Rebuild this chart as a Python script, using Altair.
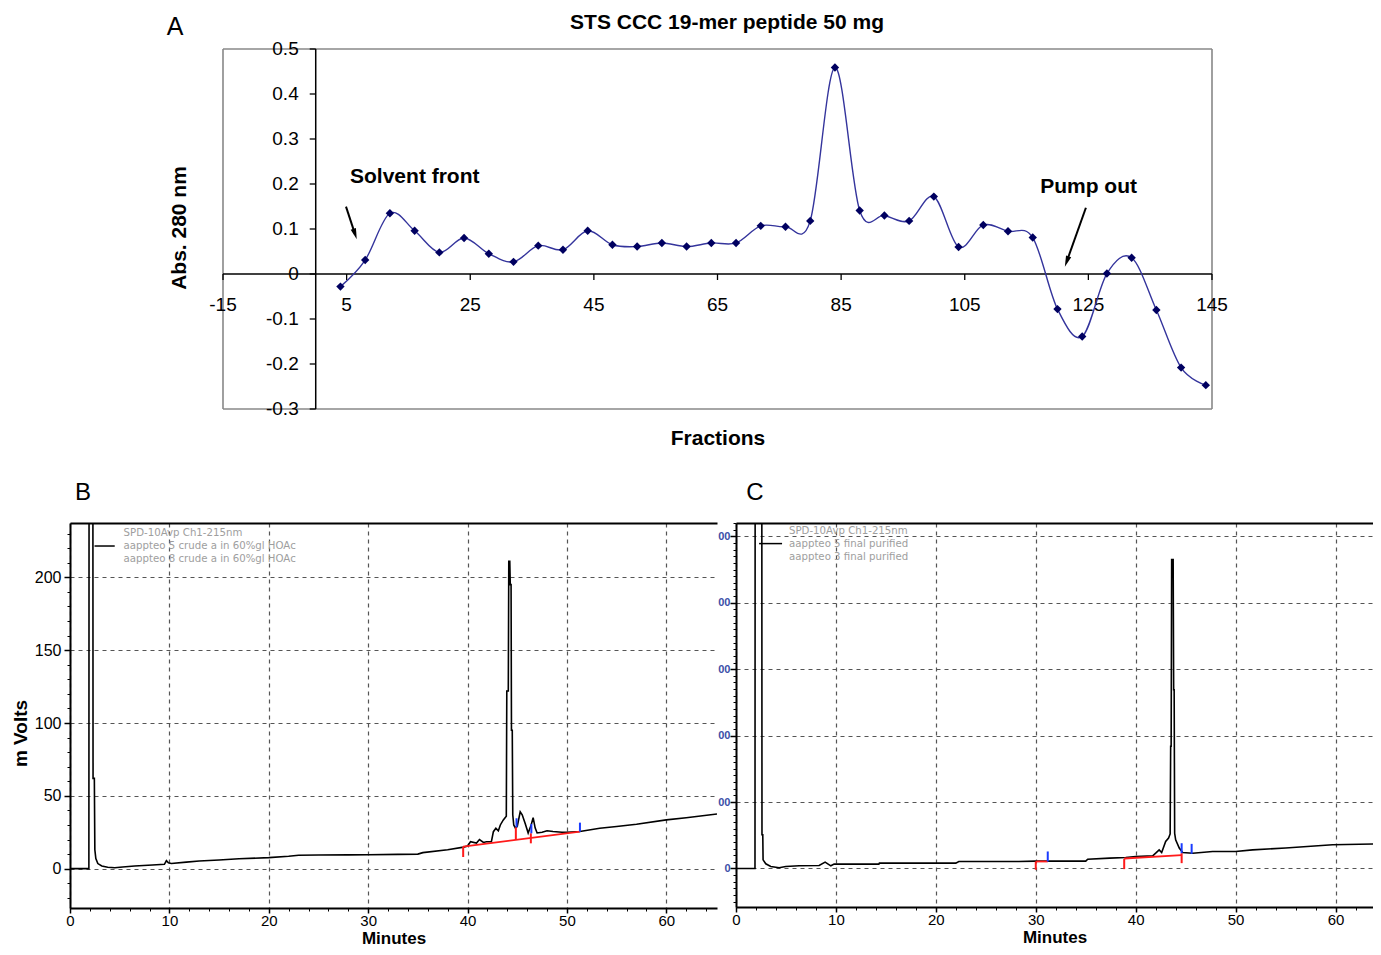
import altair as alt
import pandas as pd

FONT = "Liberation Sans"

# ---------------- Panel A data ----------------
A_FRACTION = [4, 8, 12, 16, 20, 24, 28, 32, 36, 40, 44, 48, 52, 56, 60, 64, 68, 72,
              76, 80, 84, 88, 92, 96, 100, 104, 108, 112, 116, 120, 124, 128, 132,
              136, 140, 144]
A_ABS = [-0.028, 0.031, 0.135, 0.096, 0.048, 0.080, 0.045, 0.027, 0.063, 0.054,
         0.096, 0.065, 0.061, 0.069, 0.061, 0.069, 0.069, 0.107, 0.105, 0.118,
         0.459, 0.141, 0.130, 0.118, 0.172, 0.060, 0.109, 0.095, 0.081, -0.078,
         -0.139, 0.001, 0.036, -0.080, -0.208, -0.247]
A_XTICKS = [-15, 5, 25, 45, 65, 85, 105, 125, 145]
A_XLABELS = ["-15", "5", "25", "45", "65", "85", "105", "125", "145"]
A_YTICKS = [-0.3, -0.2, -0.1, 0, 0.1, 0.2, 0.3, 0.4, 0.5]
A_YLABELS = ["-0.3", "-0.2", "-0.1", "0", "0.1", "0.2", "0.3", "0.4", "0.5"]
A_TITLE = "STS CCC 19-mer peptide 50 mg"
A_XTITLE = "Fractions"
A_YTITLE = "Abs. 280 nm"

A_NOTES = ["Solvent front", "Pump out"]
A_NOTE_X = [5.55, 117.2]
A_NOTE_Y = [0.2156, 0.1933]
A_ARROW_X = [4.90, 124.6]
A_ARROW_Y = [0.1496, 0.1473]
A_ARROW_X2 = [6.36, 121.5]
A_ARROW_Y2 = [0.0887, 0.0278]
A_ARROW_ANGLE = [162, 200]

# crossing axis lines of panel A (x from, y from, x to, y to)
A_AXIS_X = [-15, 0]
A_AXIS_Y = [0, -0.3]
A_AXIS_X2 = [145, 0]
A_AXIS_Y2 = [0, 0.5]
# frame of panel A plot area (bottom, top, right, left)
A_BOX_X = [-15, -15, 145, -15]
A_BOX_Y = [-0.3, 0.5, -0.3, -0.3]
A_BOX_X2 = [145, 145, 145, -15]
A_BOX_Y2 = [-0.3, 0.5, 0.5, 0.5]

# ---------------- Panel B data ----------------
B_TIME = [0, 1.9, 1.92, 2.3, 2.32, 2.45, 2.5, 2.6, 2.8, 3.2, 3.8, 4.5, 5.3, 6.5, 8.3,
          9.5, 9.7, 9.9, 10.2, 11.7, 13, 15, 17, 20, 22, 23, 25, 28, 30, 33, 35, 35.5,
          38, 39.6, 40.0, 40.3, 40.9, 41.2, 41.6, 41.9, 42.4, 42.6, 42.85, 43.1, 43.3,
          43.6, 43.9, 43.95, 44.1, 44.15, 44.25, 44.3, 44.38, 44.42, 44.5, 44.55,
          44.65, 44.8, 45.0, 45.3, 45.5, 45.8, 46.1, 46.4, 46.6, 46.8, 47.0, 47.5,
          48.0, 48.6, 49.5, 50.0, 51.3, 53.3, 55, 57, 60, 62, 65.1]
B_MV = [0, 0, 300, 300, 62, 62, 13, 7, 3.5, 1.8, 1.0, 0.6, 1.2, 1.8, 2.5, 3.0, 5.5,
        4.0, 3.6, 4.5, 5.3, 6.0, 6.8, 7.6, 8.5, 9.2, 9.4, 9.5, 9.6, 9.8, 10.0, 11.0,
        13.0, 14.8, 15.6, 18.5, 17.6, 20.0, 18.0, 18.5, 18.5, 25.4, 27.7, 26.0, 30.0,
        33.5, 36.0, 122, 122, 211, 211, 195, 195, 95, 95, 37, 30, 28, 29, 39, 37, 31,
        24.5, 30, 35, 28, 24.5, 25, 26, 25.5, 25, 25, 25.5, 27.7, 29, 30.5, 33.5, 35,
        37.5]
B_XMAJOR = [0, 10, 20, 30, 40, 50, 60]
B_XMINOR = list(range(0, 66, 2))
B_YMAJOR = [0, 50, 100, 150, 200]
B_YMINOR = list(range(-20, 240, 10))
B_BASE_T = [39.56]
B_BASE_V = [15.1]
B_BASE_T2 = [51.31]
B_BASE_V2 = [25.4]
B_MARK_T = [39.56, 44.86, 46.37, 44.93, 46.42, 51.31]
B_MARK_V = [15.1, 28.4, 24.3, 34.6, 30.7, 31.6]
B_MARK_V2 = [8.0, 19.7, 17.4, 28.4, 24.3, 25.4]
B_MARK_KIND = ["red", "red", "red", "blue", "blue", "blue"]
B_LEGEND = ["SPD-10Avp Ch1-215nm", "aappteo 5 crude a in 60%gl HOAc",
            "aappteo 8 crude a in 60%gl HOAc"]
B_LEGEND_T = [5.39, 5.39, 5.39]
B_LEGEND_V = [230.5, 221.5, 212.6]
B_KEY_T = [2.47]
B_KEY_T2 = [4.5]
B_KEY_V = [221.5]

# ---------------- Panel C data ----------------
C_TIME = [0, 1.9, 1.92, 2.58, 2.6, 2.68, 2.71, 2.98, 3.48, 4.32, 4.98, 6.32, 8.32,
          8.92, 9.49, 9.82, 14.3, 14.35, 22.0, 22.3, 28.3, 30.0, 35.0, 35.2, 37.4,
          39.0, 40.0, 41.7, 42.0, 42.35, 42.6, 43.0, 43.29, 43.45, 43.5, 43.55, 43.6,
          43.75, 43.8, 43.85, 43.9, 44.0, 44.36, 44.7, 45.7, 47.7, 50.0, 51.7, 55.0,
          59.7, 64.5]
C_SIGNAL = [0, 0, 700, 700, 50.8, 50.8, 13, 7, 3, 1, 3, 4, 4.5, 9.5, 4, 6.5, 6.5, 8,
            8, 10.5, 10.5, 11, 11, 14, 15.6, 16.6, 18, 19, 23, 28, 24, 40.6, 45.8, 52,
            184, 184, 465, 465, 269, 269, 53, 43, 30.7, 24, 23, 25.6, 25.6, 28, 30.7,
            35.7, 37]
C_XMAJOR = [0, 10, 20, 30, 40, 50, 60]
C_XMINOR = list(range(0, 64, 2))
C_YMAJOR = [0, 100, 200, 300, 400, 500]
C_YMINOR = list(range(-50, 521, 10))
C_BASE_T = [30.0, 38.85]
C_BASE_V = [10.5, 15.0]
C_BASE_T2 = [31.2, 44.6]
C_BASE_V2 = [10.5, 20.0]
C_MARK_T = [30.0, 38.85, 44.6, 31.2, 44.6, 45.6]
C_MARK_V = [10.5, 14.2, 23.0, 25.6, 38.0, 37.0]
C_MARK_V2 = [-2.0, -1.0, 8.0, 10.5, 23.0, 22.0]
C_MARK_KIND = ["red", "red", "red", "blue", "blue", "blue"]
C_LEGEND = ["SPD-10Avp Ch1-215nm", "aappteo 5 final purified",
            "aappteo 3 final purified"]
C_LEGEND_T = [5.3, 5.3, 5.3]
C_LEGEND_V = [508.6, 489.0, 469.0]
C_KEY_T = [2.31]
C_KEY_T2 = [4.61]
C_KEY_V = [489.0]

ONE = pd.DataFrame({"k": [0]})

# ================= Panel A =================
A_PX_PER_UNIT = 989 / 160.0
A_LEFT_EXTRA = 153  # blank room left of the frame, shared with panel B's column
dfA = pd.DataFrame({"x": A_FRACTION, "y": A_ABS})
xsA = alt.Scale(domain=[-15 - A_LEFT_EXTRA / A_PX_PER_UNIT, 145], nice=False, zero=False)
ysA = alt.Scale(domain=[-0.3, 0.5], nice=False, zero=False)


def XA(f):
    return alt.X(f, scale=xsA, axis=None)


def YA(f):
    return alt.Y(f, scale=ysA, axis=None)


dfBox = pd.DataFrame({"x": A_BOX_X, "y": A_BOX_Y, "x2": A_BOX_X2, "y2": A_BOX_Y2})
a_box = alt.Chart(dfBox).mark_rule(color="#888888", strokeWidth=1.6).encode(
    x=XA("x:Q"), y=YA("y:Q"), x2="x2:Q", y2="y2:Q")
dfAxes = pd.DataFrame({"x": A_AXIS_X, "y": A_AXIS_Y, "x2": A_AXIS_X2, "y2": A_AXIS_Y2})
a_axes = alt.Chart(dfAxes).mark_rule(color="black", strokeWidth=1.5).encode(
    x=XA("x:Q"), y=YA("y:Q"), x2="x2:Q", y2="y2:Q")

dfXT = pd.DataFrame({"x": A_XTICKS, "y": [0] * len(A_XTICKS), "lab": A_XLABELS})
dfYT = pd.DataFrame({"x": [0] * len(A_YTICKS), "y": A_YTICKS, "lab": A_YLABELS})
a_xtick = alt.Chart(dfXT).mark_tick(orient="vertical", size=6, thickness=1.3, color="black",
                                    yOffset=3, opacity=1).encode(x=XA("x:Q"), y=YA("y:Q"))
a_ytick = alt.Chart(dfYT).mark_tick(orient="horizontal", size=6, thickness=1.3, color="black",
                                    xOffset=-3, opacity=1).encode(x=XA("x:Q"), y=YA("y:Q"))
a_xlab = alt.Chart(dfXT).mark_text(fontSize=19, align="center", baseline="alphabetic", dy=37,
                                   color="black", font=FONT).encode(
    x=XA("x:Q"), y=YA("y:Q"), text="lab:N")
a_ylab = alt.Chart(dfYT).mark_text(fontSize=19, align="right", baseline="middle", dx=-17,
                                   color="black", font=FONT).encode(
    x=XA("x:Q"), y=YA("y:Q"), text="lab:N")

a_line = alt.Chart(dfA).mark_line(interpolate="cardinal", color="#34349c", strokeWidth=1.4).encode(
    x=XA("x:Q"), y=YA("y:Q"))
a_pts = alt.Chart(dfA).mark_point(shape="diamond", filled=True, size=70, color="#000060",
                                  opacity=1).encode(x=XA("x:Q"), y=YA("y:Q"))

dfArrow = pd.DataFrame({"x": A_ARROW_X, "y": A_ARROW_Y, "x2": A_ARROW_X2, "y2": A_ARROW_Y2,
                        "ang": A_ARROW_ANGLE})
a_arrow = alt.Chart(dfArrow).mark_rule(color="black", strokeWidth=2).encode(
    x=XA("x:Q"), y=YA("y:Q"), x2="x2:Q", y2="y2:Q")
a_head = alt.Chart(dfArrow).mark_point(shape="M0,-1L0.5,1L-0.5,1Z", filled=True, size=121,
                                      color="black", opacity=1).encode(
    x=XA("x2:Q"), y=YA("y2:Q"), angle=alt.Angle("ang:Q", scale=None))
dfNotes = pd.DataFrame({"x": A_NOTE_X, "y": A_NOTE_Y, "t": A_NOTES})
a_notes = alt.Chart(dfNotes).mark_text(fontSize=21, fontWeight="bold", align="left",
                                       baseline="middle", color="black", font=FONT).encode(
    x=XA("x:Q"), y=YA("y:Q"), text="t:N")

a_letter = alt.Chart(ONE).mark_text(text="A", fontSize=25, align="center", baseline="middle",
                                    color="black", font=FONT).encode(
    x=alt.value(A_LEFT_EXTRA - 48), y=alt.value(-22))
a_title = alt.Chart(ONE).mark_text(text=A_TITLE, fontSize=21, fontWeight="bold", align="center",
                                   baseline="alphabetic", color="black", font=FONT).encode(
    x=alt.value(A_LEFT_EXTRA + 504), y=alt.value(-20))
a_xtitle = alt.Chart(ONE).mark_text(text=A_XTITLE, fontSize=21, fontWeight="bold", align="center",
                                    baseline="alphabetic", color="black", font=FONT).encode(
    x=alt.value(A_LEFT_EXTRA + 495), y=alt.value(396))
a_ytitle = alt.Chart(ONE).mark_text(text=A_YTITLE, fontSize=21, fontWeight="bold", align="center",
                                    baseline="middle", angle=270, color="black", font=FONT).encode(
    x=alt.value(A_LEFT_EXTRA - 43), y=alt.value(179))

panelA = alt.layer(a_box, a_axes, a_xtick, a_ytick, a_xlab, a_ylab, a_line, a_pts, a_arrow,
                   a_head, a_notes, a_letter, a_title, a_xtitle, a_ytitle).properties(
    width=989 + A_LEFT_EXTRA, height=360,
    view=alt.ViewBackground(stroke="transparent"),
)


# ================= Chromatogram panels =================
def chrom(time, sig, xdom, ydom, width, height, xmajor, xminor, ymajor, yminor,
          base, marks, legend, key, letter, letter_x, ytitle, ylabel_style):
    df = pd.DataFrame({"t": time, "v": sig})
    xs = alt.Scale(domain=xdom, nice=False, zero=False)
    ys = alt.Scale(domain=ydom, nice=False, zero=False)

    x_major = alt.Axis(orient="bottom", values=xmajor, grid=True, gridDash=[4, 4], gridColor="#555555",
                       gridWidth=1.2, domainColor="black", domainWidth=2, tickColor="black",
                       tickSize=5, tickWidth=1.5, labelFontSize=15, labelColor="black",
                       labelPadding=0, labelFlush=False, title="Minutes", titleFontSize=17,
                       titleFontWeight="bold", titleColor="black", titleY=35.5,
                       titleBaseline="alphabetic")
    y_kw = dict(orient="left", values=ymajor, grid=True, gridDash=[4, 4], gridColor="#555555",
                gridWidth=1.2, domainColor="black", domainWidth=2, tickColor="black",
                tickSize=6, tickWidth=1.5, labelFlush=False)
    y_kw.update(ylabel_style)
    if ytitle:
        y_kw.update(title=ytitle, titleFontSize=19, titleFontWeight="bold", titleColor="black",
                    titleX=-50, titleY=210, titleAngle=270, titleAlign="center",
                    titleBaseline="middle")
    else:
        y_kw.update(title=None)
    y_major = alt.Axis(**y_kw)

    trace = alt.Chart(df).mark_line(color="black", strokeWidth=1.6, clip=True).encode(
        x=alt.X("t:Q", scale=xs, axis=x_major),
        y=alt.Y("v:Q", scale=ys, axis=y_major),
    )
    minor1 = alt.Chart(df).mark_line(strokeOpacity=0).encode(
        x=alt.X("t:Q", scale=xs, axis=alt.Axis(orient="bottom", values=xminor, labels=False,
                                               domain=False, grid=False, tickSize=3,
                                               tickColor="black", title=None)),
        y=alt.Y("v:Q", scale=ys, axis=alt.Axis(orient="left", values=yminor, labels=False,
                                               domain=False, grid=False, tickSize=3,
                                               tickColor="black", title=None)),
    )
    topline = alt.Chart(df).mark_line(strokeOpacity=0).encode(
        x=alt.X("t:Q", scale=xs, axis=alt.Axis(orient="top", domain=True, domainColor="black",
                                               domainWidth=2, ticks=False, labels=False,
                                               grid=False, title=None)),
        y=alt.Y("v:Q", scale=ys, axis=None),
    )
    dfb = pd.DataFrame({"t": base[0], "v": base[1], "t2": base[2], "v2": base[3]})
    baseline = alt.Chart(dfb).mark_rule(color="#ff1a1a", strokeWidth=1.8).encode(
        x=alt.X("t:Q", scale=xs, axis=None), y=alt.Y("v:Q", scale=ys, axis=None),
        x2="t2:Q", y2="v2:Q",
    )
    dfm = pd.DataFrame({"t": marks[0], "v": marks[1], "v2": marks[2], "kind": marks[3]})
    ticks = alt.Chart(dfm).mark_rule(strokeWidth=2).encode(
        x=alt.X("t:Q", scale=xs, axis=None), y=alt.Y("v:Q", scale=ys, axis=None), y2="v2:Q",
        color=alt.Color("kind:N", scale=alt.Scale(domain=["red", "blue"],
                                                  range=["#ff1a1a", "#1a3cff"]), legend=None),
    )
    dfl = pd.DataFrame({"t": legend[1], "v": legend[2], "txt": legend[0]})
    leg_text = alt.Chart(dfl).mark_text(align="left", baseline="middle", fontSize=10.2,
                                        color="#9e9e9e", font="DejaVu Sans").encode(
        x=alt.X("t:Q", scale=xs, axis=None), y=alt.Y("v:Q", scale=ys, axis=None), text="txt:N",
    )
    dfk = pd.DataFrame({"t": key[0], "t2": key[1], "v": key[2]})
    leg_key = alt.Chart(dfk).mark_rule(color="black", strokeWidth=1.5).encode(
        x=alt.X("t:Q", scale=xs, axis=None), x2="t2:Q", y=alt.Y("v:Q", scale=ys, axis=None),
    )
    let = alt.Chart(ONE).mark_text(text=letter, fontSize=24, align="center", baseline="middle",
                                   color="black", font=FONT).encode(
        x=alt.value(letter_x), y=alt.value(-30))
    return alt.layer(trace, minor1, topline, baseline, ticks, leg_key, leg_text, let).resolve_axis(
        x="independent", y="independent").properties(
        width=width, height=height, view=alt.ViewBackground(stroke="transparent"))


panelB = chrom(B_TIME, B_MV, [0, 65.1], [-27, 237.3], 647, 385, B_XMAJOR, B_XMINOR, B_YMAJOR,
               B_YMINOR, (B_BASE_T, B_BASE_V, B_BASE_T2, B_BASE_V2),
               (B_MARK_T, B_MARK_V, B_MARK_V2, B_MARK_KIND),
               (B_LEGEND, B_LEGEND_T, B_LEGEND_V), (B_KEY_T, B_KEY_T2, B_KEY_V),
               "B", 13, "m Volts",
               dict(labelFontSize=16, labelColor="black", labelPadding=3))
panelC = chrom(C_TIME, C_SIGNAL, [0, 63.75], [-58, 520], 637, 384, C_XMAJOR, C_XMINOR, C_YMAJOR,
               C_YMINOR, (C_BASE_T, C_BASE_V, C_BASE_T2, C_BASE_V2),
               (C_MARK_T, C_MARK_V, C_MARK_V2, C_MARK_KIND),
               (C_LEGEND, C_LEGEND_T, C_LEGEND_V), (C_KEY_T, C_KEY_T2, C_KEY_V),
               "C", 19, None,
               dict(labelFontSize=11, labelFontWeight="bold", labelColor="#3c4ea8",
                    labelPadding=0, labelExpr="datum.value == 0 ? '0' : '00'"))

chart = alt.vconcat(
    panelA,
    alt.hconcat(panelB, panelC, spacing=19, bounds="flush"),
    spacing=114, bounds="flush",
).properties(
    autosize=alt.AutoSizeParams(type="none"),
    padding={"left": 62, "top": 41, "right": 1303, "bottom": 898},
).configure(font=FONT, background="white")

chart.save("out.html", embed_options={"renderer": "svg", "actions": False})
